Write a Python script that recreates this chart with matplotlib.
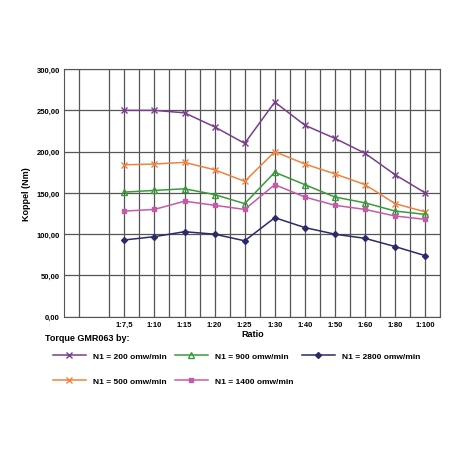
import numpy as np
import matplotlib
matplotlib.use("Agg")
import matplotlib.pyplot as plt

ratios = ["1:7,5", "1:10", "1:15", "1:20", "1:25", "1:30", "1:40", "1:50", "1:60", "1:80", "1:100"]
n200 = [250, 250, 247, 230, 210, 260, 232, 216, 198, 172, 150]
n500 = [184, 185, 187, 178, 164, 200, 185, 173, 160, 137, 127]
n900 = [151, 153, 155, 148, 137, 175, 160, 145, 138, 128, 124]
n1400 = [128, 130, 140, 135, 130, 160, 145, 135, 130, 122, 118]
n2800 = [93, 97, 103, 100, 92, 120, 108, 100, 95, 85, 74]

plt.rcParams["font.family"] = ["Liberation Sans", "DejaVu Sans"]
fig = plt.figure(figsize=(4.52, 4.52), dpi=100)
ax = fig.add_axes([0.142, 0.297, 0.832, 0.548])

x = np.arange(len(ratios))
series = [
    (n200, "N1 = 200 omw/min", "#7a3d8e", "x", 4),
    (n500, "N1 = 500 omw/min", "#ee8340", "x", 4),
    (n900, "N1 = 900 omw/min", "#3a9a3a", "^", 4),
    (n1400, "N1 = 1400 omw/min", "#c65aa8", "s", 3),
    (n2800, "N1 = 2800 omw/min", "#2b2a6b", "D", 3),
]
handles = {}
for vals, lab, col, mk, ms in series:
    face = "none" if mk == "^" else col
    h, = ax.plot(x, vals, color=col, lw=1.1, marker=mk, ms=ms, mfc=face, mec=col, label=lab)
    handles[lab] = h

ax.set_xlim(-2, 10.5)
ax.set_ylim(0, 300)
ax.set_xticks(x)
ax.set_xticklabels(ratios, fontsize=5.5, fontweight="bold")
ax.set_xticks(np.arange(-1.5, 10.6, 1.0), minor=True)
ax.set_yticks(np.arange(0, 301, 50))
ax.set_yticklabels([f"{v:.2f}".replace(".", ",") for v in range(0, 301, 50)], fontsize=5.5, fontweight="bold")
ax.grid(True, which="major", color="#555555", lw=0.9)
ax.grid(True, which="minor", axis="x", color="#555555", lw=0.9)
ax.tick_params(length=0, pad=3)
ax.tick_params(which="minor", length=0)
for s in ax.spines.values():
    s.set_color("#555555")
ax.set_xlabel("Ratio", fontsize=6.5, fontweight="bold", labelpad=1)
ax.set_ylabel("Koppel (Nm)", fontsize=6.5, fontweight="bold")

fig.text(0.1, 0.245, "Torque GMR063 by:", fontsize=6.5, fontweight="bold")
order = ["N1 = 200 omw/min", "N1 = 500 omw/min", "N1 = 900 omw/min",
         "N1 = 1400 omw/min", "N1 = 2800 omw/min"]
fig.legend([handles[k] for k in order], order, loc="upper left", bbox_to_anchor=(0.1, 0.235),
           ncol=3, frameon=False, prop={"size": 6, "weight": "bold"},
           handlelength=4, columnspacing=1.0, labelspacing=2.0)

fig.savefig("out.png", dpi=100)
